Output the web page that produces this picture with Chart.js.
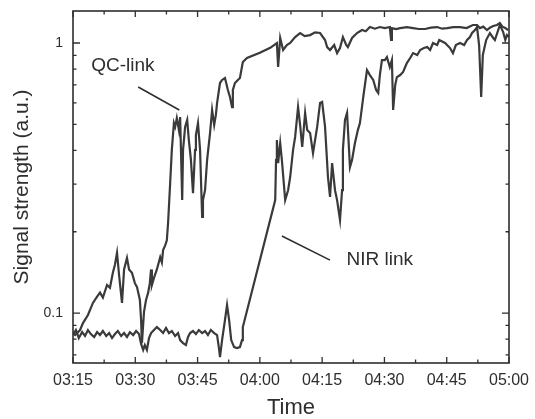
<!DOCTYPE html>
<html>
<head>
<meta charset="utf-8">
<script src="https://cdn.jsdelivr.net/npm/chart.js@4/dist/chart.umd.min.js"></script>
<style>
  html, body { margin: 0; padding: 0; background: #ffffff; }
  #wrap { width: 535px; height: 419px; }
</style>
</head>
<body>
<div id="wrap"><canvas id="c" width="535" height="419"></canvas></div>
<script>
// ---- Data (time = minutes after 03:15, signal in a.u.) ----
const xTickLabels = ['03:15', '03:30', '03:45', '04:00', '04:15', '04:30', '04:45', '05:00'];
const yTickValues = [0.1, 1];
const yTickLabels = ['0.1', '1'];
const yMinorTicks = [0.07, 0.08, 0.09, 0.2, 0.3, 0.4, 0.5, 0.6, 0.7, 0.8, 0.9];

const qcTime = [0, 0.5, 1.7, 2.4, 3.6, 4.8, 5.8, 6.5, 7.2, 8.2, 8.9, 9.6, 10.1, 10.6, 11.1, 11.8, 12.3, 13.0, 13.5, 14.2,
  14.9, 15.4, 16.1, 16.4, 16.6, 17.1, 17.6, 18.1, 18.5, 18.8, 19.0, 19.5, 20.2, 21.0, 21.4, 21.7, 22.2, 22.6, 22.9, 23.4,
  23.8, 24.3, 24.6, 25.0, 25.5, 25.8, 26.3, 26.5, 27.0, 27.5, 27.9, 28.4, 28.9, 29.4, 29.6, 30.1, 30.6, 31.1, 31.3, 31.8,
  32.3, 33.0, 33.5, 34.0, 34.4, 34.7, 35.4, 35.9, 36.6, 37.3, 37.8, 38.3, 38.5, 39.0, 39.7, 40.2, 40.9, 41.9, 45.0, 47.5,
  49.1, 49.4, 49.9, 50.6, 51.5, 52.3, 53.5, 54.7, 55.8, 57.1, 58.3, 59.5, 60.7, 61.2, 61.9, 62.9, 63.6, 64.3, 65.0, 65.8,
  66.2, 67.2, 68.4, 69.6, 70.5, 71.5, 72.7, 73.9, 75.1, 76.3, 76.6, 76.8, 77.8, 78.8, 80.4, 81.9, 83.3, 84.8, 86.2, 87.7,
  88.9, 90.1, 91.6, 93.2, 94.8, 96.3, 97.3, 98.0, 98.8, 99.7, 100.4, 101.2, 102.1, 102.8, 103.4, 104.1, 104.8];
const qcSignal = [0.0843, 0.0829, 0.0865, 0.0918, 0.0983, 0.109, 0.115, 0.119, 0.114, 0.127, 0.124, 0.141, 0.151, 0.167, 0.138, 0.109, 0.145, 0.160, 0.145, 0.141,
  0.129, 0.125, 0.112, 0.094, 0.0774, 0.101, 0.112, 0.119, 0.129, 0.145, 0.127, 0.135, 0.145, 0.161, 0.154, 0.171, 0.178, 0.186, 0.216, 0.303,
  0.402, 0.505, 0.489, 0.527, 0.476, 0.532, 0.262, 0.402, 0.489, 0.519, 0.437, 0.369, 0.278, 0.402, 0.456, 0.505, 0.402, 0.227, 0.262, 0.285,
  0.369, 0.464, 0.565, 0.497, 0.541, 0.600, 0.711, 0.730, 0.742, 0.670, 0.631, 0.579, 0.670, 0.711, 0.730, 0.742, 0.850, 0.880, 0.920, 0.960,
  1.000, 0.815, 1.044, 0.942, 0.983, 1.000, 1.052, 1.089, 1.060, 1.070, 1.095, 1.089, 1.026, 0.966, 0.942, 0.983, 0.918, 0.958, 1.052, 0.983,
  0.966, 1.044, 1.089, 1.117, 1.105, 1.146, 1.130, 1.146, 1.136, 1.146, 1.026, 1.136, 1.127, 1.136, 1.146, 1.136, 1.127, 1.127, 1.140, 1.146,
  1.130, 1.136, 1.146, 1.146, 1.136, 1.166, 1.166, 1.136, 1.150, 1.117, 1.140, 1.156, 1.166, 1.186, 1.150, 1.136, 1.117];

const nirTime = [0, 0.7, 1.4, 2.2, 2.9, 3.6, 4.3, 5.1, 5.8, 6.5, 7.2, 8.0, 8.7, 9.4, 10.1, 10.8, 11.6, 12.3, 13.0, 13.7,
  14.5, 15.2, 15.9, 16.4, 16.9, 17.3, 17.8, 18.3, 18.8, 19.5, 20.2, 21.0, 21.7, 22.4, 23.1, 23.8, 24.6, 25.3, 25.8, 26.5,
  27.2, 27.7, 28.2, 28.9, 29.6, 30.3, 31.1, 31.8, 32.5, 33.2, 34.0, 34.7, 35.2, 35.4, 35.9, 36.6, 37.1, 37.6, 38.1, 38.8,
  39.5, 40.2, 40.7, 40.9, 48.7, 48.9, 49.1, 49.4, 49.9, 50.3, 51.1, 51.8, 52.3, 53.0, 53.5, 54.2, 54.7, 55.2, 55.9, 56.4,
  57.1, 57.8, 58.3, 58.8, 59.5, 60.0, 60.7, 61.4, 61.9, 62.4, 63.1, 63.6, 64.3, 64.8, 65.0, 65.5, 66.0, 66.7, 67.2, 67.9,
  68.6, 69.1, 69.9, 70.3, 70.8, 71.5, 72.3, 73.0, 73.5, 73.9, 74.4, 75.1, 75.6, 76.3, 76.8, 77.1, 77.6, 78.0, 78.8, 79.5,
  80.4, 81.2, 81.9, 82.9, 83.6, 84.5, 85.3, 86.0, 86.7, 87.7, 88.2, 89.6, 90.8, 91.5, 92.2, 93.2, 94.2, 94.9, 95.6, 96.1,
  96.8, 97.3, 97.8, 98.3, 98.7, 99.5, 100.4, 101.2, 101.6, 102.4, 102.8, 103.6, 104.1, 104.5, 105.0];
const nirSignal = [0.0829, 0.0865, 0.0808, 0.0850, 0.0822, 0.0865, 0.0836, 0.0815, 0.0850, 0.0829, 0.0858, 0.0822, 0.0843, 0.0808, 0.0836, 0.0858, 0.0822, 0.0843, 0.0815, 0.0850,
  0.0829, 0.0858, 0.0836, 0.0768, 0.0730, 0.0761, 0.0730, 0.0808, 0.0843, 0.0865, 0.0887, 0.0865, 0.0843, 0.0880, 0.0843, 0.0858, 0.0822, 0.0843, 0.0794, 0.0774,
  0.0761, 0.0815, 0.0843, 0.0858, 0.0836, 0.0865, 0.0843, 0.0858, 0.0829, 0.0865, 0.0843, 0.0829, 0.0730, 0.0687, 0.0794, 0.0942, 0.107, 0.0942, 0.0794, 0.0748,
  0.0742, 0.0748, 0.0794, 0.0887, 0.262, 0.369, 0.437, 0.359, 0.426, 0.369, 0.262, 0.285, 0.319, 0.402, 0.449, 0.579, 0.497, 0.412, 0.551, 0.476,
  0.464, 0.391, 0.437, 0.489, 0.600, 0.605, 0.489, 0.319, 0.269, 0.359, 0.285, 0.262, 0.221, 0.285, 0.402, 0.519, 0.551, 0.347, 0.369, 0.426,
  0.476, 0.505, 0.631, 0.699, 0.794, 0.761, 0.730, 0.670, 0.653, 0.761, 0.865, 0.865, 0.887, 0.815, 0.865, 0.565, 0.699, 0.748, 0.761, 0.781,
  0.843, 0.880, 0.918, 0.903, 0.942, 0.958, 0.966, 0.942, 1.000, 0.983, 1.026, 1.000, 0.958, 0.918, 0.983, 1.000, 0.983, 1.026, 1.052, 1.089,
  1.117, 1.146, 0.983, 0.631, 0.903, 1.026, 1.089, 1.044, 1.026, 1.117, 1.166, 1.098, 1.026, 1.070, 1.052];

// ---- Chart ----
const FONT = '"Liberation Sans", Arial, Helvetica, sans-serif';
const INK = '#2e2e2e';
const LINE = '#3a3a3a';

const frameTicks = {
  id: 'frameTicks',
  afterDraw(chart) {
    const ctx = chart.ctx, a = chart.chartArea, xs = chart.scales.x, ys = chart.scales.y;
    ctx.save();
    ctx.strokeStyle = INK;
    ctx.lineWidth = 1.6;
    ctx.strokeRect(a.left, a.top, a.right - a.left, a.bottom - a.top);
    ctx.lineWidth = 1.3;
    ctx.beginPath();
    for (let t = xs.min; t <= xs.max + 0.01; t += 7.5) {
      const major = Math.abs(t % 15) < 0.01;
      const len = major ? 6 : 3.5;
      const px = xs.getPixelForValue(t);
      ctx.moveTo(px, a.bottom); ctx.lineTo(px, a.bottom - len);
      ctx.moveTo(px, a.top); ctx.lineTo(px, a.top + len);
    }
    const all = yTickValues.map(v => [v, 7]).concat(yMinorTicks.map(v => [v, 3.5]));
    all.forEach(([v, len]) => {
      const py = ys.getPixelForValue(v);
      ctx.moveTo(a.left, py); ctx.lineTo(a.left + len, py);
      ctx.moveTo(a.right, py); ctx.lineTo(a.right - len, py);
    });
    ctx.stroke();
    ctx.restore();
  }
};

const annotations = {
  id: 'annotations',
  afterDatasetsDraw(chart) {
    const ctx = chart.ctx, xs = chart.scales.x, ys = chart.scales.y;
    const P = (t, v) => [xs.getPixelForValue(t), ys.getPixelForValue(v)];
    ctx.save();
    ctx.fillStyle = INK;
    ctx.strokeStyle = INK;
    ctx.lineWidth = 1.6;
    ctx.font = '19px ' + FONT;
    ctx.textAlign = 'center';
    ctx.textBaseline = 'middle';
    let p = P(12.0, 0.822);
    ctx.fillText('QC-link', p[0], p[1]);
    p = P(73.9, 0.157);
    ctx.fillText('NIR link', p[0], p[1]);
    ctx.beginPath();
    let a = P(15.7, 0.687), b = P(25.6, 0.565);
    ctx.moveTo(a[0], a[1]); ctx.lineTo(b[0], b[1]);
    a = P(50.3, 0.193); b = P(61.9, 0.157);
    ctx.moveTo(a[0], a[1]); ctx.lineTo(b[0], b[1]);
    ctx.stroke();
    ctx.restore();
  }
};

new Chart(document.getElementById('c'), {
  type: 'line',
  data: {
    datasets: [
      { label: 'QC-link', data: qcTime.map((t, i) => ({ x: t, y: qcSignal[i] })),
        borderColor: LINE, borderWidth: 2.2, pointRadius: 0, tension: 0, fill: false },
      { label: 'NIR link', data: nirTime.map((t, i) => ({ x: t, y: nirSignal[i] })),
        borderColor: LINE, borderWidth: 2.2, pointRadius: 0, tension: 0, fill: false }
    ]
  },
  options: {
    responsive: false,
    animation: false,
    events: [],
    layout: { padding: { top: 11, right: 26, left: 0, bottom: 0 } },
    plugins: { legend: { display: false }, tooltip: { enabled: false } },
    scales: {
      x: {
        type: 'linear', min: 0, max: 105,
        grid: { display: false, drawTicks: false },
        border: { display: false },
        ticks: {
          stepSize: 15, padding: 8, color: INK, maxRotation: 0, autoSkip: false,
          font: { family: FONT, size: 16 },
          callback: (v, i) => xTickLabels[i]
        },
        title: { display: true, text: 'Time', color: INK, font: { family: FONT, size: 22, lineHeight: 1 }, padding: { top: 0, bottom: 0 } },
        afterFit: s => { s.height = 56; s.paddingLeft = 0; s.paddingRight = 0; }
      },
      y: {
        type: 'logarithmic', min: 0.0653, max: 1.314,
        grid: { display: false, drawTicks: false },
        border: { display: false },
        afterBuildTicks: s => { s.ticks = yTickValues.map(v => ({ value: v })); },
        ticks: {
          padding: 10, color: INK, autoSkip: false,
          font: { family: FONT, size: 14 },
          callback: (v) => { const i = yTickValues.indexOf(v); return i >= 0 ? yTickLabels[i] : ''; }
        },
        title: { display: true, text: 'Signal strength (a.u.)', color: INK, font: { family: FONT, size: 21 }, padding: { top: 10, bottom: 0 } },
        afterFit: s => { s.width = 73; s.paddingTop = 0; s.paddingBottom = 0; }
      }
    }
  },
  plugins: [frameTicks, annotations]
});
</script>
</body>
</html>
